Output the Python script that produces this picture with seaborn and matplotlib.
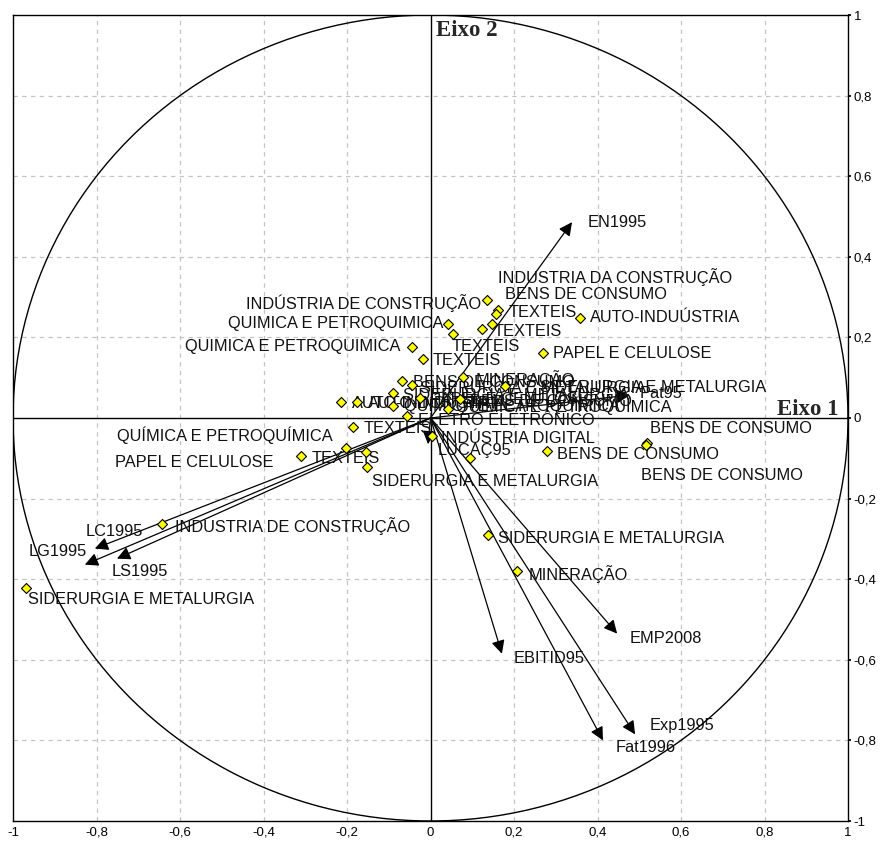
import numpy as np
import pandas as pd
import matplotlib
matplotlib.use("Agg")
import matplotlib.pyplot as plt
import seaborn as sns

# Sector scores on the first two factorial axes
sector_names = [
    "INDÚSTRIA DE CONSTRUÇÃO", "TEXTEIS", "BENS DE CONSUMO", "TEXTEIS",
    "INDUSTRIA DA CONSTRUÇÃO", "AUTO-INDUÚSTRIA", "PAPEL E CELULOSE",
    "QUIMICA E PETROQUIMICA", "TEXTEIS", "QUIMICA E PETROQUIMICA", "TEXTEIS",
    "MINERAÇÃO", "BENS DE CONSUMO", "SIDERURGIA E METALURGIA",
    "SIDERURGIA E METALURGIA", "AUTO-INDÚSTRIA", "AUTO-INDÚSTRIA",
    "QUÍMICA E PETROQUÍMICA", "PAPEL E CELULOSE", "QUÍMICA E PETROQUÍMICA",
    "ELETRO ELETRÔNICO", "SIDERURGIA E METALURGIA", "BENS DE CONSUMO",
    "TEXTEIS", "INDÚSTRIA DIGITAL", "QUÍMICA E PETROQUÍMICA", "TEXTEIS",
    "PAPEL E CELULOSE", "SIDERURGIA E METALURGIA", "", "BENS DE CONSUMO",
    "BENS DE CONSUMO", "BENS DE CONSUMO", "INDUSTRIA DE CONSTRUÇÃO",
    "SIDERURGIA E METALURGIA", "SIDERURGIA E METALURGIA", "MINERAÇÃO",
]
sector_x = [
    0.135, 0.162, 0.157, 0.147, 0.123, 0.358, 0.269, 0.042, 0.054, -0.044,
    -0.018, 0.078, -0.068, -0.044, -0.090, -0.214, -0.176, -0.090, -0.025,
    0.042, -0.056, 0.178, 0.071, -0.186, 0.004, -0.202, -0.310, -0.154,
    -0.152, 0.095, 0.279, 0.518, 0.515, -0.643, -0.969, 0.138, 0.207,
]
sector_y = [
    0.294, 0.269, 0.259, 0.234, 0.222, 0.249, 0.162, 0.234, 0.209, 0.177,
    0.147, 0.102, 0.092, 0.082, 0.062, 0.040, 0.040, 0.030, 0.050, 0.022,
    0.005, 0.080, 0.047, -0.022, -0.045, -0.075, -0.095, -0.085, -0.122,
    -0.100, -0.082, -0.062, -0.067, -0.264, -0.421, -0.291, -0.379,
]

# Variable correlations with the two axes
variable_names = ["EN1995", "LC1995", "LG1995", "LS1995", "EMP2008",
                  "EBITID95", "Fat1996", "Exp1995", "LUCAÇ95", "Pat95"]
variable_x = [0.339, -0.804, -0.828, -0.751, 0.447, 0.171, 0.413, 0.490, -0.006, 0.478]
variable_y = [0.486, -0.324, -0.364, -0.349, -0.535, -0.585, -0.800, -0.785, -0.065, 0.057]

tick_values = [-1, -0.8, -0.6, -0.4, -0.2, 0, 0.2, 0.4, 0.6, 0.8, 1]
tick_labels = ["-1", "-0,8", "-0,6", "-0,4", "-0,2", "0", "0,2", "0,4", "0,6", "0,8", "1"]

# Label placement (data coords, horizontal alignment)
sector_label_pos = [
    (0.121, 0.286, "right"), (0.186, 0.262, "left"), (0.178, 0.306, "left"),
    (0.150, 0.214, "left"), (0.162, 0.351, "left"), (0.382, 0.249, "left"),
    (0.293, 0.159, "left"), (0.030, 0.234, "right"), (0.051, 0.177, "left"),
    (-0.071, 0.177, "right"), (0.006, 0.142, "left"), (0.107, 0.097, "left"),
    (-0.042, 0.087, "left"), (-0.025, 0.072, "left"), (-0.066, 0.055, "left"),
    (-0.188, 0.037, "left"), (-0.150, 0.037, "left"), (-0.063, 0.032, "left"),
    (0.000, 0.047, "left"), (0.061, 0.030, "left"), (-0.030, -0.005, "left"),
    (0.262, 0.075, "left"), (0.095, 0.042, "left"), (-0.159, -0.027, "left"),
    (0.025, -0.050, "left"), (-0.234, -0.042, "right"), (-0.284, -0.100, "left"),
    (-0.377, -0.110, "right"), (-0.140, -0.157, "left"), (0.0, 0.0, "left"),
    (0.303, -0.090, "left"), (0.526, -0.025, "left"), (0.504, -0.142, "left"),
    (-0.612, -0.269, "left"), (-0.964, -0.451, "left"), (0.162, -0.299, "left"),
    (0.234, -0.386, "left"),
]
variable_label_pos = [
    (0.377, 0.486), (-0.827, -0.281), (-0.962, -0.331), (-0.763, -0.381),
    (0.478, -0.548), (0.200, -0.598), (0.444, -0.817), (0.526, -0.762),
    (0.018, -0.080), (0.502, 0.062),
]

LABEL_SIZE = 11.8

sns.set_theme(style="white")
plt.rcParams["font.family"] = ["Liberation Sans", "DejaVu Sans"]

fig = plt.figure(figsize=(8.81, 8.42), dpi=100)
ax = fig.add_axes([13 / 881, 1 - 821 / 842, 835 / 881, 806 / 842])

ax.set_xlim(-1, 1)
ax.set_ylim(-1, 1)

# dashed grid
for v in tick_values[1:-1]:
    if v == 0:
        continue
    ax.axvline(v, color="#c4c4c4", lw=0.9, ls=(0, (3.5, 3.5)), zorder=0)
    ax.axhline(v, color="#c4c4c4", lw=0.9, ls=(0, (3.5, 3.5)), zorder=0)

# axes through the origin
ax.axhline(0, color="black", lw=1.0, zorder=1)
ax.axvline(0, color="black", lw=1.0, zorder=1)

# unit correlation circle
theta = np.linspace(0, 2 * np.pi, 400)
ax.plot(np.cos(theta), np.sin(theta), color="black", lw=1.0, zorder=1)

# variable arrows
for name, vx, vy, (lx, ly) in zip(variable_names, variable_x, variable_y, variable_label_pos):
    ax.annotate("", xy=(vx, vy), xytext=(0, 0),
                arrowprops=dict(arrowstyle="-|>", color="black", lw=0.9,
                                mutation_scale=20, shrinkA=0, shrinkB=0),
                zorder=3)
    ax.text(lx, ly, name, fontsize=LABEL_SIZE, ha="left", va="center",
            color="#111111", zorder=4)

# sector points
sectors = pd.DataFrame({"x": sector_x, "y": sector_y, "name": sector_names})
sns.scatterplot(data=sectors, x="x", y="y", marker="D", s=26, color="#ffff00",
                edgecolor="black", linewidth=0.8, ax=ax, zorder=5, legend=False)
for name, (lx, ly, ha) in zip(sector_names, sector_label_pos):
    if name:
        ax.text(lx, ly, name, fontsize=LABEL_SIZE, ha=ha, va="center",
                color="#111111", zorder=4)

ax.text(0.012, 0.962, "Eixo 2", fontsize=16.5, fontweight="bold",
        family=["Liberation Serif", "DejaVu Serif"], ha="left", va="center", zorder=6)
ax.text(0.830, 0.022, "Eixo 1", fontsize=16.5, fontweight="bold",
        family=["Liberation Serif", "DejaVu Serif"], ha="left", va="center", zorder=6)

ax.set_xticks(tick_values)
ax.set_xticklabels(tick_labels, fontsize=9.5)
ax.set_yticks(tick_values)
ax.set_yticklabels(tick_labels, fontsize=9.5)
ax.yaxis.tick_right()
ax.tick_params(axis="both", length=2, pad=2, colors="black")
ax.set_xlabel("")
ax.set_ylabel("")
for sp in ax.spines.values():
    sp.set_color("black")
    sp.set_linewidth(1.0)

fig.savefig("out.png", dpi=100)
